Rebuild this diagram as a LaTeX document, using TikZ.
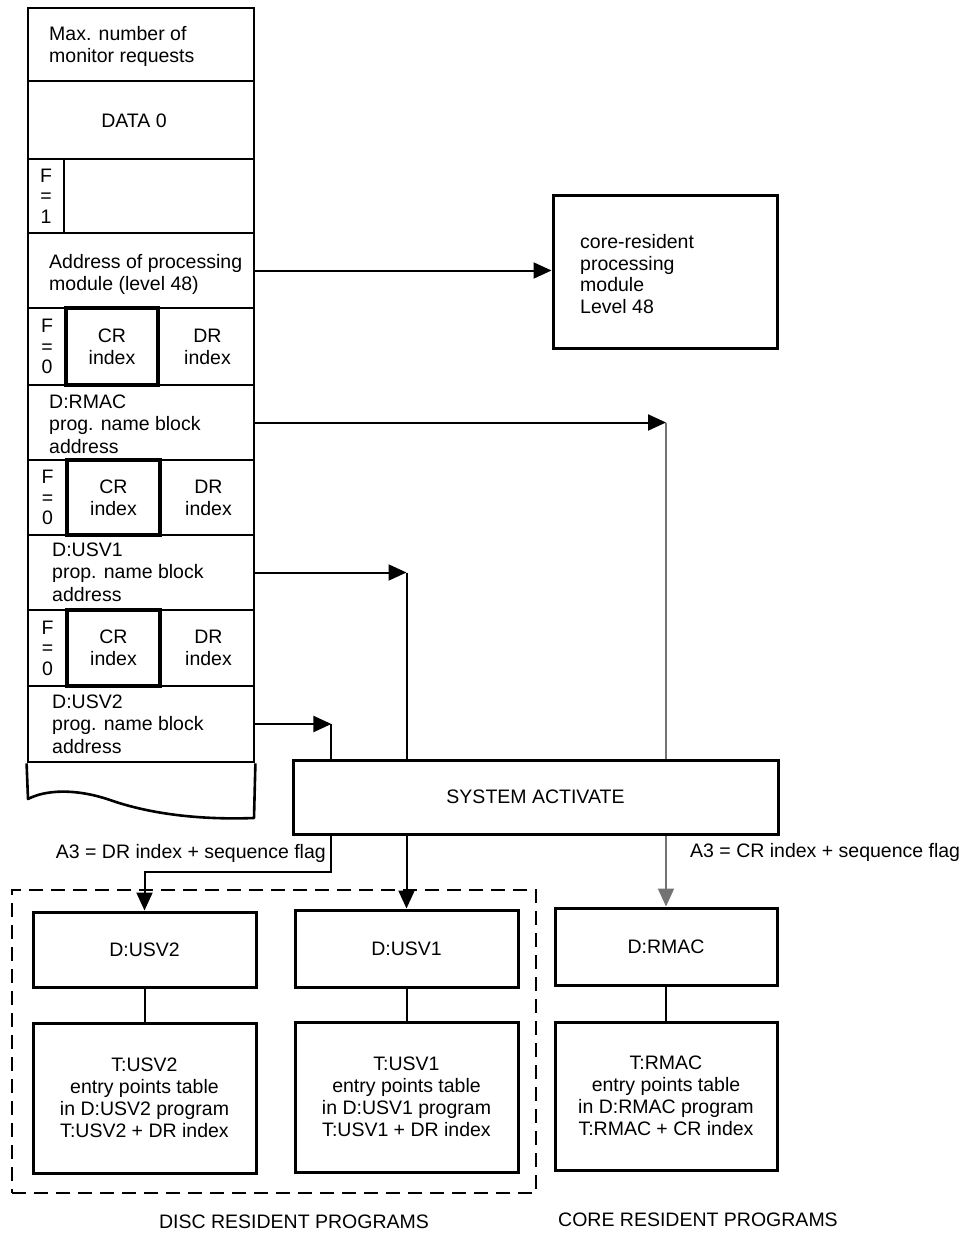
\documentclass[tikz,border=0pt]{standalone}
\usepackage{fontspec}
\setmainfont{Liberation Sans}
\usetikzlibrary{arrows.meta,calc,fit}
\begin{document}
\begin{tikzpicture}[x=1pt,y=-1pt,
  txt/.style={font=\fontsize{19.5}{22}\selectfont, inner sep=0pt, align=left, text=black},
  ctxt/.style={txt, align=center},
  cellbox/.style={draw, line width=2.8pt, inner sep=0pt},
  crbox/.style={draw, line width=3.2pt, inner sep=0pt},
  progbox/.style={draw, line width=3pt, inner sep=0pt},
  dashbox/.style={draw, line width=2.2pt, dash pattern=on 14pt off 8pt, inner sep=0pt},
  conn/.style={line width=2pt},
  faint/.style={draw=black!55},
  arr/.style={conn, -{Triangle[length=18pt,width=16pt]}}
]
\fill[white] (0,0) rectangle (969,1236);
\useasboundingbox (0,0) rectangle (969,1236);

% ---- memory column ----
\node[cellbox, fit={(28,8) (254,81)}] (r1) {};
\node[cellbox, fit={(28,81) (254,159)}] (r2) {};
\node[cellbox, fit={(28,159) (254,233)}] (r3) {};
\node[cellbox, fit={(28,159) (64,233)}] (f3) {};
\node[cellbox, fit={(28,233) (254,308)}] (r4) {};
\node[cellbox, fit={(28,308) (254,385)}] (r5) {};
\node[cellbox, fit={(28,308) (66,385)}] (f5) {};
\node[crbox, fit={(66,308) (158,385)}] (cr5) {};
\node[cellbox, fit={(28,385) (254,460)}] (r6) {};
\node[cellbox, fit={(28,460) (254,535)}] (r7) {};
\node[cellbox, fit={(28,460) (67,535)}] (f7) {};
\node[crbox, fit={(67,460) (160,535)}] (cr7) {};
\node[cellbox, fit={(28,535) (254,610)}] (r8) {};
\node[cellbox, fit={(28,610) (254,686)}] (r9) {};
\node[cellbox, fit={(28,610) (67,686)}] (f9) {};
\node[crbox, fit={(67,610) (160,686)}] (cr9) {};
\node[cellbox, fit={(28,686) (254,762)}] (r10) {};
\draw[line width=2.6pt, line join=round] (r10.south west) -- (28,799)
  .. controls (45,790) and (75,788) .. (110,800)
  .. controls (150,814) and (200,820) .. (254,818) -- (r10.south east);

\node[txt, anchor=west] (t1) at (49,46) {Max. number of\\monitor requests};
\node[ctxt] (t2) at (134,121) {DATA 0};
\node[ctxt, font=\fontsize{19.5}{20.5}\selectfont] (t3) at (f3) {F\\=\\1};
\node[txt, anchor=west] (t4) at (49,274) {Address of processing\\module (level 48)};
\node[ctxt, font=\fontsize{19.5}{20.5}\selectfont] (t5f) at (f5) {F\\=\\0};
\node[ctxt] (t5c) at (cr5) {CR\\index};
\node[ctxt] (t5d) at ($(cr5.east)!0.5!(r5.east)$) {DR\\index};
\node[txt, anchor=west, font=\fontsize{19.5}{22.5}\selectfont] (t6) at (49,424) {D:RMAC\\prog. name block\\address};
\node[ctxt, font=\fontsize{19.5}{20.5}\selectfont] (t7f) at (f7) {F\\=\\0};
\node[ctxt] (t7c) at (cr7) {CR\\index};
\node[ctxt] (t7d) at ($(cr7.east)!0.5!(r7.east)$) {DR\\index};
\node[txt, anchor=west, font=\fontsize{19.5}{22.5}\selectfont] (t8) at (52,572) {D:USV1\\prop. name block\\address};
\node[ctxt, font=\fontsize{19.5}{20.5}\selectfont] (t9f) at (f9) {F\\=\\0};
\node[ctxt] (t9c) at (cr9) {CR\\index};
\node[ctxt] (t9d) at ($(cr9.east)!0.5!(r9.east)$) {DR\\index};
\node[txt, anchor=west, font=\fontsize{19.5}{22.5}\selectfont] (t10) at (52,724) {D:USV2\\prog. name block\\address};

% ---- core-resident processing module ----
\node[progbox, fit={(553,195) (777,348)}] (core) {};
\node[txt, anchor=west, font=\fontsize{19.5}{21.5}\selectfont] (coret) at (580,274) {core-resident\\processing\\module\\Level 48};

% ---- system activate ----
\node[progbox, fit={(293,760) (778,834)}] (sa) {};
\node[ctxt] (sat) at (sa) {SYSTEM ACTIVATE};
\node[txt, anchor=east] (a3dr) at (326,853) {A3 = DR index + sequence flag};
\node[txt, anchor=west] (a3cr) at (690,852) {A3 = CR index + sequence flag};

% ---- programs ----
\node[dashbox, fit={(12,890) (536,1193)}] (disc) {};
\node[progbox, fit={(33,912) (256,987)}] (dusv2) {};
\node[ctxt] at (dusv2) {D:USV2};
\node[progbox, fit={(33,1023) (256,1173)}] (tusv2) {};
\node[ctxt] at (tusv2) {T:USV2\\entry points table\\in D:USV2 program\\T:USV2 + DR index};
\node[progbox, fit={(295,910) (518,987)}] (dusv1) {};
\node[ctxt] at (dusv1) {D:USV1};
\node[progbox, fit={(295,1022) (518,1172)}] (tusv1) {};
\node[ctxt] at (tusv1) {T:USV1\\entry points table\\in D:USV1 program\\T:USV1 + DR index};
\node[progbox, fit={(555,908) (777,985)}] (drmac) {};
\node[ctxt] at (drmac) {D:RMAC};
\node[progbox, fit={(555,1022) (777,1170)}] (trmac) {};
\node[ctxt] at (trmac) {T:RMAC\\entry points table\\in D:RMAC program\\T:RMAC + CR index};

\node[ctxt] (discl) at (294,1222) {DISC RESIDENT PROGRAMS};
\node[ctxt] (corel) at (698,1220) {CORE RESIDENT PROGRAMS};

% ---- connectors ----
\draw[arr] (r4.east) -- (r4.east -| core.west);

\coordinate (k1) at (r6.east -| drmac.north);
\draw[arr] (r6.east) -- (k1);
\draw[conn, faint] (k1) -- (k1 |- sa.north);
\draw[arr, faint] (sa.south -| drmac.north) -- (drmac.north);

\coordinate (k2) at (r8.east -| dusv1.north);
\draw[arr] (r8.east) -- (k2);
\draw[conn] (k2) -- (k2 |- sa.north);
\draw[arr] (sa.south -| dusv1.north) -- (dusv1.north);

\coordinate (k3) at ($(r10.east)+(76,0)$);
\draw[arr] (r10.east) -- (k3);
\draw[conn] (k3) -- (k3 |- sa.north);
\coordinate (k4) at ($(sa.south -| k3)+(0,36)$);
\draw[arr] (sa.south -| k3) -- (k4) -- (k4 -| dusv2.north) -- (dusv2.north);

\draw[conn] (dusv2.south) -- (tusv2.north);
\draw[conn] (dusv1.south) -- (tusv1.north);
\draw[conn] (drmac.south) -- (trmac.north);
\end{tikzpicture}
\end{document}
